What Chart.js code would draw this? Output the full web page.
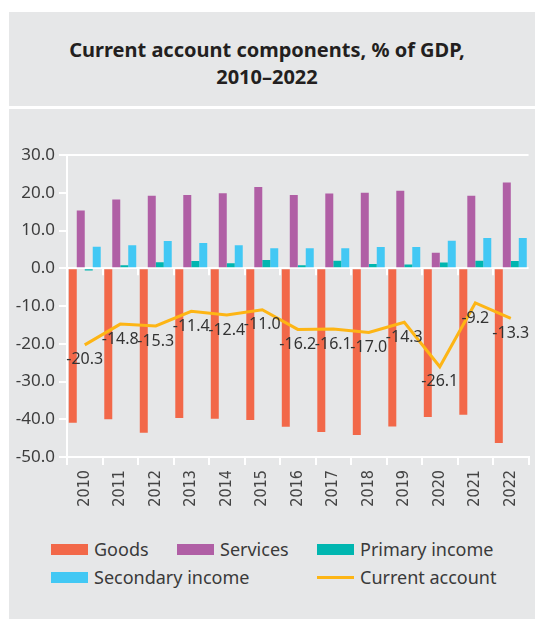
<!DOCTYPE html>
<html>
<head>
<meta charset="utf-8">
<script src="https://cdn.jsdelivr.net/npm/chart.js@4/dist/chart.umd.min.js"></script>
<style>
  body { margin: 0; background: #fff; font-family: 'Noto Sans', sans-serif; }
  .panel { position: absolute; left: 9px; width: 526px; background: #e6e7e8; }
  #head { top: 12px; height: 94px; box-sizing: border-box; padding: 24px 10px 0 0;
    text-align: center; font-weight: bold; font-size: 20px; line-height: 27px; color: #231f20; }
  #body { top: 109px; height: 510px; }
  #wrap { position: absolute; left: 0; top: 0; width: 526px; height: 408px; }
  #legend { position: absolute; left: 42px; top: 426px; display: grid;
    grid-template-columns: 126px 140px auto; grid-auto-rows: 28px;
    font-size: 18px; color: #3a3a3a; }
  #legend .item { display: flex; align-items: center; white-space: nowrap; }
  #legend .item.wide { grid-column: span 2; }
  #legend .swatch { width: 37px; height: 11px; margin-right: 6px; }
  #legend .swatch.line { height: 3px; margin-top: 0; }
</style>
</head>
<body>
<div id="head" class="panel">Current account components, % of GDP,<br>2010–2022</div>
<div id="body" class="panel">
  <div id="wrap"><canvas id="lineChart"></canvas></div>
  <div id="legend"></div>
</div>
<script>
const years = ['2010', '2011', '2012', '2013', '2014', '2015', '2016', '2017', '2018', '2019', '2020', '2021', '2022'];
const goods = [-40.9, -40.0, -43.6, -39.7, -39.9, -40.2, -42.0, -43.4, -44.2, -41.9, -39.4, -38.8, -46.3];
const services = [15.3, 18.2, 19.2, 19.4, 19.9, 21.5, 19.4, 19.8, 20.0, 20.5, 4.1, 19.2, 22.7];
const primaryIncome = [-0.6, 0.8, 1.6, 1.9, 1.3, 2.2, 0.8, 2.0, 1.1, 1.0, 1.5, 2.0, 1.9];
const secondaryIncome = [5.7, 6.1, 7.2, 6.7, 6.1, 5.3, 5.3, 5.3, 5.6, 5.6, 7.3, 8.0, 8.0];
const currentAccount = [-20.3, -14.8, -15.3, -11.4, -12.4, -11.0, -16.2, -16.1, -17.0, -14.3, -26.1, -9.2, -13.3];
const yTicks = [-50, -40, -30, -20, -10, 0, 10, 20, 30];

Chart.defaults.font.family = "'Noto Sans', sans-serif";
Chart.defaults.color = '#3d3d3d';

const bar = (label, data, color) => ({
  type: 'bar',
  label,
  data,
  backgroundColor: color,
  borderWidth: 0,
  categoryPercentage: 0.9,
  barPercentage: 1,
  order: 1,
});

// value labels under each current account point
const pointLabels = {
  id: 'pointLabels',
  afterDatasetsDraw(chart) {
    const meta = chart.getDatasetMeta(4);
    const { ctx } = chart;
    ctx.save();
    ctx.font = "16px 'Noto Sans', sans-serif";
    ctx.fillStyle = '#333';
    ctx.textAlign = 'center';
    ctx.textBaseline = 'middle';
    meta.data.forEach((pt, i) => {
      ctx.fillText(currentAccount[i].toFixed(1), pt.x, pt.y + 15);
    });
    ctx.restore();
  },
};

// small ticks hanging from the zero line at the category boundaries
const zeroTicks = {
  id: 'zeroTicks',
  afterDatasetsDraw(chart) {
    const { ctx, scales: { x, y } } = chart;
    const y0 = y.getPixelForValue(0);
    const step = x.width / years.length;
    ctx.save();
    ctx.strokeStyle = '#fff';
    ctx.lineWidth = 2;
    for (let k = 1; k < years.length; k++) {
      const px = Math.round(x.left + k * step);
      ctx.beginPath();
      ctx.moveTo(px, y0);
      ctx.lineTo(px, y0 + 7);
      ctx.stroke();
    }
    ctx.restore();
  },
};

const chart = new Chart(document.getElementById('lineChart'), {
  data: {
    labels: years,
    datasets: [
      bar('Goods', goods, '#f26849'),
      bar('Services', services, '#b05fa5'),
      bar('Primary income', primaryIncome, '#00b6b0'),
      bar('Secondary income', secondaryIncome, '#42c8f4'),
      {
        type: 'line',
        label: 'Current account',
        data: currentAccount,
        borderColor: '#fdb515',
        backgroundColor: '#fdb515',
        borderWidth: 3,
        pointRadius: 0,
        lineTension: 0,
        fill: false,
        order: 0,
      },
    ],
  },
  options: {
    responsive: true,
    maintainAspectRatio: false,
    animation: false,
    layout: { padding: { top: 46, left: 0, right: 0, bottom: 0 } },
    plugins: { legend: { display: false }, tooltip: { enabled: false } },
    scales: {
      x: {
        grid: { drawOnChartArea: false, color: '#fff', lineWidth: 2, tickLength: 8 },
        border: { color: '#fff', width: 2 },
        ticks: { minRotation: 90, maxRotation: 90, padding: 5, color: '#444',
          font: { size: 16, family: "'Liberation Sans Narrow', 'DejaVu Sans Condensed', sans-serif" } },
        afterFit(scale) { scale.height = 60; },
      },
      y: {
        min: yTicks[0],
        max: yTicks[yTicks.length - 1],
        afterBuildTicks(scale) { scale.ticks = yTicks.map(value => ({ value })); },
        grid: {
          color: ctx => (ctx.tick && (ctx.tick.value === 0 || ctx.tick.value === 30 || ctx.tick.value === -50)) ? '#fff' : 'rgba(0,0,0,0)',
          tickColor: '#fff',
          lineWidth: 2,
          tickLength: 8,
        },
        border: { color: '#fff', width: 2 },
        ticks: { padding: 4, font: { size: 17 }, callback: v => v.toFixed(1) },
        afterFit(scale) { scale.width = 58; },
      },
    },
  },
  plugins: [pointLabels, zeroTicks],
});

// legend built from the chart's datasets
const legend = document.getElementById('legend');
chart.data.datasets.forEach((ds, i) => {
  const item = document.createElement('div');
  item.className = 'item' + (i === 3 ? ' wide' : '');
  const sw = document.createElement('span');
  sw.className = 'swatch' + (ds.type === 'line' ? ' line' : '');
  sw.style.background = ds.type === 'line' ? ds.borderColor : ds.backgroundColor;
  item.appendChild(sw);
  item.appendChild(document.createTextNode(ds.label));
  legend.appendChild(item);
});
</script>
</body>
</html>
